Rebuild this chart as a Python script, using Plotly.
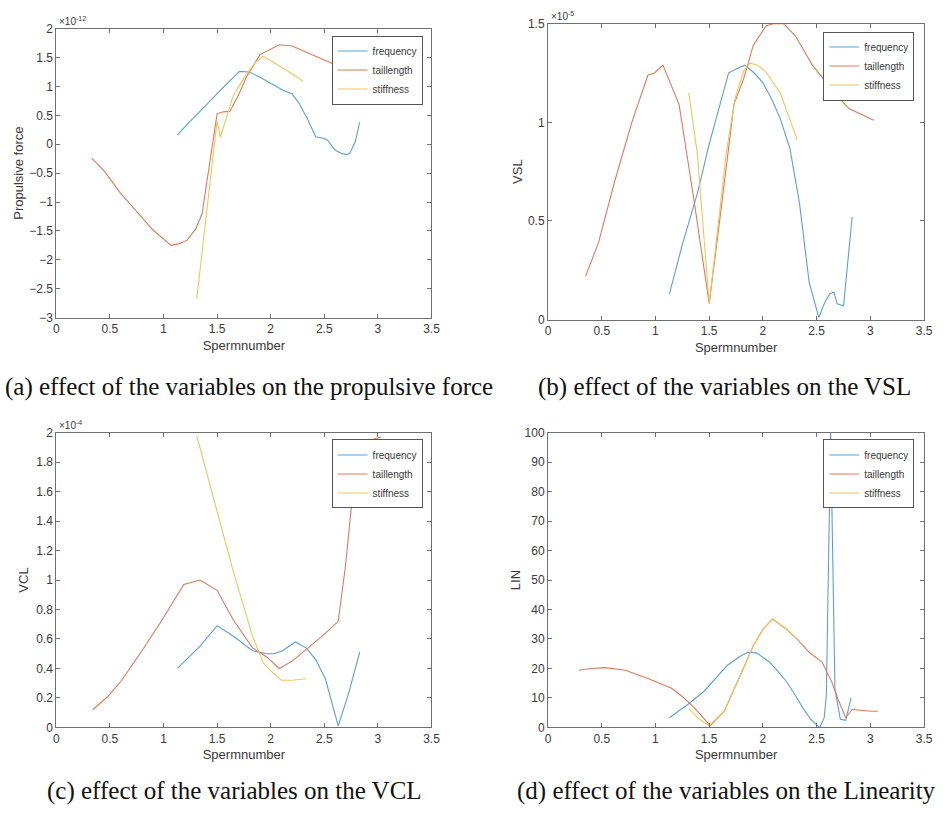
import plotly.graph_objects as go

W, H = 945, 818

series_names = ["frequency", "taillength", "stiffness"]
colors = ["#5a9fd6", "#e0795a", "#f0c65a"]

# ---- (a) Propulsive force, units of 1e-12 ----
freq_x_a = [1.13, 1.25, 1.40, 1.55, 1.71, 1.80, 1.90, 2.02, 2.12, 2.20, 2.26, 2.34, 2.42, 2.50, 2.53, 2.60, 2.66, 2.71, 2.74, 2.79, 2.83]
freq_y_a = [0.16, 0.40, 0.68, 0.97, 1.26, 1.25, 1.16, 1.04, 0.93, 0.87, 0.72, 0.45, 0.13, 0.10, 0.07, -0.10, -0.16, -0.18, -0.15, 0.05, 0.38]
tail_x_a = [0.33, 0.45, 0.60, 0.75, 0.90, 1.07, 1.15, 1.22, 1.30, 1.36, 1.50, 1.56, 1.62, 1.70, 1.77, 1.90, 2.00, 2.08, 2.20, 2.35, 2.50, 2.60, 2.72]
tail_y_a = [-0.24, -0.47, -0.85, -1.17, -1.48, -1.75, -1.72, -1.66, -1.47, -1.20, 0.53, 0.56, 0.57, 0.85, 1.15, 1.55, 1.65, 1.72, 1.70, 1.58, 1.45, 1.37, 1.28]
stiff_x_a = [1.31, 1.50, 1.53, 1.60, 1.65, 1.77, 1.85, 1.93, 1.99, 2.11, 2.20, 2.30]
stiff_y_a = [-2.68, 0.41, 0.12, 0.55, 0.84, 1.20, 1.40, 1.52, 1.46, 1.32, 1.22, 1.09]

# ---- (b) VSL, units of 1e-5 ----
freq_x_b = [1.13, 1.25, 1.39, 1.50, 1.60, 1.68, 1.75, 1.83, 1.92, 2.00, 2.08, 2.16, 2.25, 2.34, 2.43, 2.52, 2.57, 2.62, 2.66, 2.69, 2.75, 2.79, 2.83]
freq_y_b = [0.13, 0.38, 0.64, 0.89, 1.09, 1.25, 1.27, 1.29, 1.25, 1.20, 1.12, 1.02, 0.87, 0.59, 0.19, 0.01, 0.08, 0.13, 0.14, 0.08, 0.07, 0.30, 0.52]
tail_x_b = [0.35, 0.47, 0.62, 0.78, 0.93, 0.99, 1.07, 1.22, 1.36, 1.50, 1.62, 1.73, 1.82, 1.91, 2.03, 2.10, 2.19, 2.30, 2.46, 2.55, 2.68, 2.80, 2.92, 3.03]
tail_y_b = [0.22, 0.39, 0.70, 1.00, 1.24, 1.25, 1.29, 1.09, 0.60, 0.08, 0.60, 1.09, 1.22, 1.39, 1.49, 1.50, 1.50, 1.44, 1.29, 1.23, 1.14, 1.07, 1.04, 1.01]
stiff_x_b = [1.31, 1.39, 1.50, 1.58, 1.66, 1.74, 1.82, 1.88, 1.95, 2.02, 2.10, 2.16, 2.24, 2.32]
stiff_y_b = [1.15, 0.84, 0.08, 0.45, 0.85, 1.12, 1.26, 1.30, 1.29, 1.26, 1.20, 1.15, 1.03, 0.91]

# ---- (c) VCL, units of 1e-4 ----
freq_x_c = [1.13, 1.34, 1.50, 1.65, 1.83, 1.96, 2.03, 2.11, 2.23, 2.33, 2.42, 2.51, 2.63, 2.73, 2.83]
freq_y_c = [0.40, 0.55, 0.69, 0.62, 0.52, 0.50, 0.50, 0.52, 0.58, 0.54, 0.46, 0.33, 0.01, 0.24, 0.51]
tail_x_c = [0.34, 0.48, 0.61, 0.79, 0.97, 1.19, 1.34, 1.50, 1.65, 1.83, 1.96, 2.08, 2.20, 2.33, 2.48, 2.63, 2.70, 2.76, 2.80, 2.88, 3.03]
tail_y_c = [0.12, 0.21, 0.32, 0.51, 0.71, 0.97, 1.00, 0.93, 0.73, 0.54, 0.48, 0.40, 0.45, 0.53, 0.62, 0.72, 1.11, 1.55, 1.86, 1.94, 1.97]
stiff_x_c = [1.31, 1.47, 1.65, 1.83, 1.93, 2.02, 2.10, 2.20, 2.33]
stiff_y_c = [1.98, 1.55, 1.06, 0.62, 0.44, 0.37, 0.32, 0.32, 0.33]

# ---- (d) LIN ----
freq_x_d = [1.13, 1.30, 1.45, 1.56, 1.67, 1.78, 1.86, 1.94, 2.06, 2.14, 2.22, 2.30, 2.37, 2.44, 2.49, 2.53, 2.57, 2.59, 2.63, 2.67, 2.72, 2.77, 2.82]
freq_y_d = [3.3, 7.8, 12.2, 16.5, 21.1, 24.0, 25.5, 25.3, 22.2, 19.0, 15.5, 11.0, 6.7, 3.0, 1.1, 0.0, 3.3, 11.0, 100.0, 13.0, 2.8, 2.4, 10.0]
tail_x_d = [0.29, 0.40, 0.53, 0.72, 0.93, 1.15, 1.25, 1.36, 1.51, 1.64, 1.79, 1.91, 2.00, 2.09, 2.22, 2.33, 2.43, 2.55, 2.64, 2.70, 2.77, 2.83, 3.01, 3.07]
tail_y_d = [19.4, 20.0, 20.3, 19.4, 16.6, 13.3, 10.5, 6.7, 0.6, 5.5, 17.7, 27.7, 33.3, 36.8, 33.3, 29.5, 25.5, 22.2, 15.5, 9.5, 3.3, 6.1, 5.5, 5.5]
stiff_x_d = [1.31, 1.40, 1.50, 1.64, 1.79, 1.91, 2.00, 2.09, 2.22, 2.32]
stiff_y_d = [6.5, 3.0, 0.6, 5.5, 17.7, 27.7, 33.3, 36.8, 33.3, 29.8]

panels = [
    dict(data=[(freq_x_a, freq_y_a), (tail_x_a, tail_y_a), (stiff_x_a, stiff_y_a)],
         ylabel="Propulsive force", yrange=[-3, 2], dtick=0.5, expo="×10<sup>-12</sup>",
         box=(54, 434, 22, 316), legend=(425, 29), standoff=2,
         caption="(a) effect of the variables on the propulsive force", cap=(0, 387)),
    dict(data=[(freq_x_b, freq_y_b), (tail_x_b, tail_y_b), (stiff_x_b, stiff_y_b)],
         ylabel="VSL", yrange=[0, 1.5], dtick=0.5, expo="×10<sup>-5</sup>",
         box=(552, 933, 17, 318), legend=(923, 25), standoff=2,
         caption="(b) effect of the variables on the VSL", cap=(540, 387)),
    dict(data=[(freq_x_c, freq_y_c), (tail_x_c, tail_y_c), (stiff_x_c, stiff_y_c)],
         ylabel="VCL", yrange=[0, 2], dtick=0.2, expo="×10<sup>-4</sup>",
         box=(54, 434, 433, 733), legend=(425, 440), standoff=4,
         caption="(c) effect of the variables on the VCL", cap=(43, 798)),
    dict(data=[(freq_x_d, freq_y_d), (tail_x_d, tail_y_d), (stiff_x_d, stiff_y_d)],
         ylabel="LIN", yrange=[0, 100], dtick=10, expo=None,
         box=(552, 933, 433, 733), legend=(923, 440), standoff=1,
         caption="(d) effect of the variables on the Linearity", cap=(519, 798)),
]

sans = "Liberation Sans, Arial, Helvetica, sans-serif"
serif = "Liberation Serif, Times New Roman, serif"
axis_col = "#707070"
text_col = "#3a3a3a"

fig = go.Figure()
layout = dict(width=W, height=H, margin=dict(l=0, r=0, t=0, b=0),
              paper_bgcolor="white", plot_bgcolor="white", showlegend=True,
              annotations=[])

for i, p in enumerate(panels):
    n = "" if i == 0 else str(i + 1)
    leg = "legend" + n
    for k, (xs, ys) in enumerate(p["data"]):
        fig.add_trace(go.Scatter(x=xs, y=ys, mode="lines", name=series_names[k],
                                 line=dict(color=colors[k], width=1.1),
                                 xaxis="x" + n, yaxis="y" + n, legend=leg))
    x0, x1, y0, y1 = p["box"]
    layout["xaxis" + n] = dict(
        domain=[x0 / W, x1 / W], anchor="y" + n, range=[0, 3.5], dtick=0.5,
        ticks="inside", ticklen=4, tickcolor=axis_col, showline=True, linecolor=axis_col,
        linewidth=1, mirror="ticks", showgrid=False, zeroline=False,
        tickfont=dict(family=sans, size=12, color=text_col),
        title=dict(text="Spermnumber", font=dict(family=sans, size=13, color=text_col), standoff=5))
    layout["yaxis" + n] = dict(
        domain=[1 - y1 / H, 1 - y0 / H], anchor="x" + n, range=p["yrange"], dtick=p["dtick"],
        ticks="inside", ticklen=4, tickcolor=axis_col, showline=True, linecolor=axis_col,
        linewidth=1, mirror="ticks", showgrid=False, zeroline=False,
        tickfont=dict(family=sans, size=12, color=text_col),
        title=dict(text=p["ylabel"], font=dict(family=sans, size=13, color=text_col),
                   standoff=p["standoff"]))
    lx, ly = p["legend"]
    layout[leg] = dict(x=lx / W, y=1 - ly / H, xanchor="right", yanchor="top",
                       xref="paper", yref="paper",
                       bordercolor="#555", borderwidth=1, bgcolor="white",
                       font=dict(family=sans, size=10, color=text_col),
                       tracegroupgap=0, itemwidth=30)
    if p["expo"]:
        layout["annotations"].append(dict(
            text=p["expo"], xref="paper", yref="paper", x=(x0 + 1) / W, y=1 - (y0 - 8) / H,
            xanchor="left", yanchor="middle", showarrow=False,
            font=dict(family=sans, size=10, color=text_col)))
    cx, cy = p["cap"]
    layout["annotations"].append(dict(
        text=p["caption"], xref="paper", yref="paper", x=cx / W, y=1 - cy / H,
        xanchor="left", yanchor="middle", showarrow=False,
        font=dict(family=serif, size=25, color="#111")))

fig.update_layout(**layout)
fig.write_html("out.html")
